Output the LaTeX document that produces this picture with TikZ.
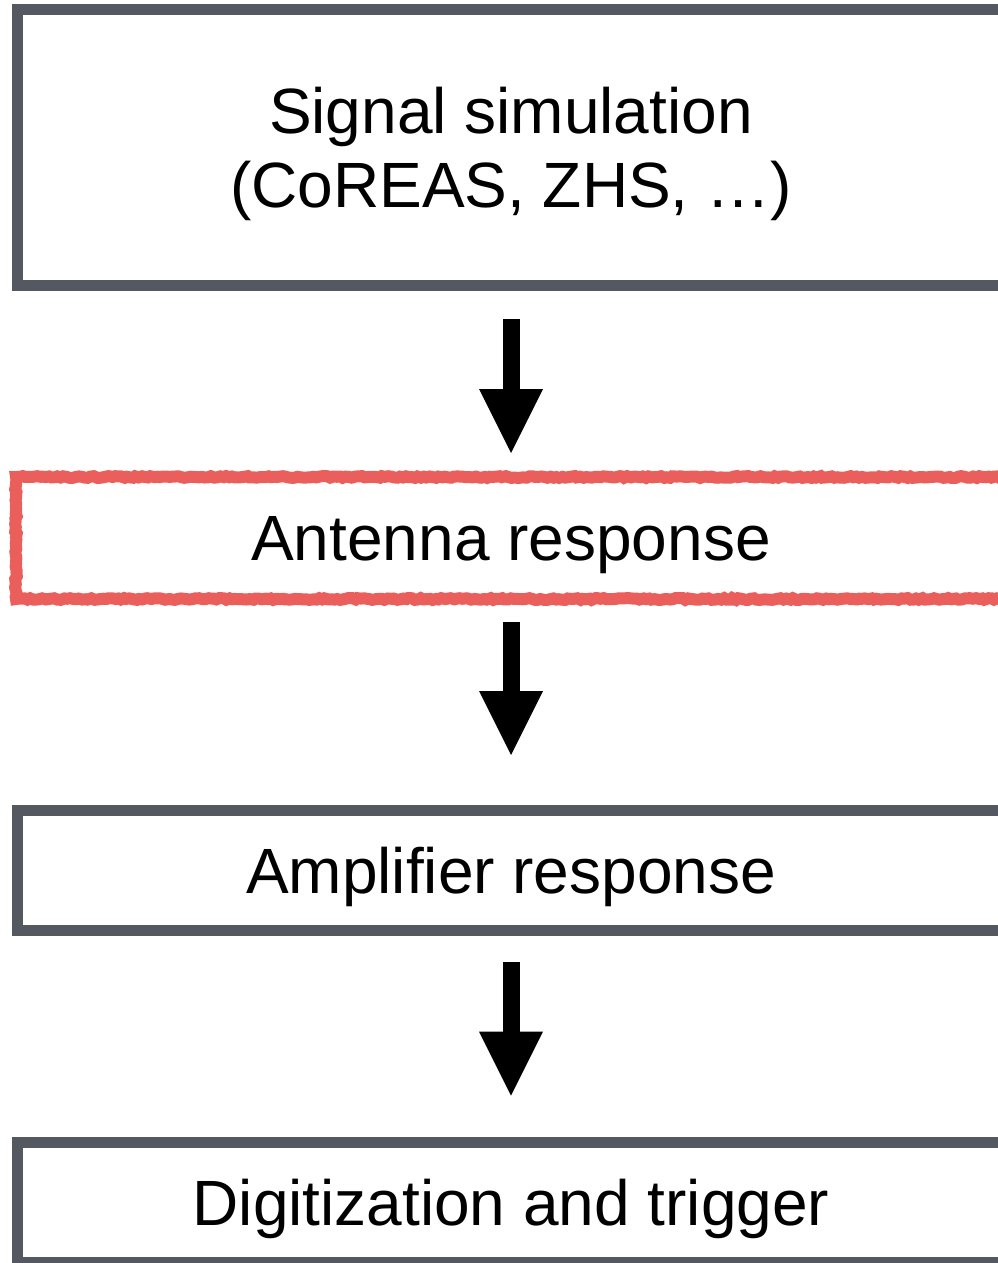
\documentclass[tikz,border=0pt]{standalone}
\usepackage{fontspec}
\setmainfont{Liberation Sans}
\usetikzlibrary{arrows.meta,decorations.pathmorphing}
\definecolor{boxgray}{RGB}{84,88,96}
\definecolor{sketchred}{RGB}{234,94,92}
\tikzset{
  stagebox/.style={draw=boxgray, line width=11pt, fill=white, inner sep=0pt, outer sep=0pt,
    minimum width=988pt, align=center, text depth=0pt, font=\fontsize{64pt}{73.6pt}\selectfont},
  roughbox/.style={draw=sketchred, line width=12pt, inner sep=0pt, outer sep=0pt,
    minimum width=990pt, align=center, text depth=0pt, font=\fontsize{64pt}{73.6pt}\selectfont,
    decorate, decoration={random steps, segment length=3pt, amplitude=0.9pt}},
  flowarrow/.style={line width=17pt, draw=black,
    -{Triangle[length=64pt, width=64pt, line width=0pt]}}
}
\begin{document}
\begin{tikzpicture}[x=1pt,y=1pt]
\useasboundingbox (0,0) rectangle (998,-1263);
\clip (0,0) rectangle (998,-1263);
\node[stagebox, minimum height=275.5pt] (sim) at (511,-147.25) {Signal simulation\\(CoREAS, ZHS, \ldots)};
\node[roughbox, minimum height=122pt] (ant) at (511,-538) {Antenna response};
\node[stagebox, minimum height=120.5pt] (amp) at (511,-870.25) {Amplifier response};
\node[stagebox, minimum height=120pt] (dig) at (511,-1202.5) {Digitization and trigger};
\draw[flowarrow] ([yshift=-34pt]sim.south) -- ([yshift=24pt]ant.north);
\draw[flowarrow] ([yshift=-23pt]ant.south) -- ([yshift=55pt]amp.north);
\draw[flowarrow] ([yshift=-31.5pt]amp.south) -- ([yshift=47pt]dig.north);
\end{tikzpicture}
\end{document}
